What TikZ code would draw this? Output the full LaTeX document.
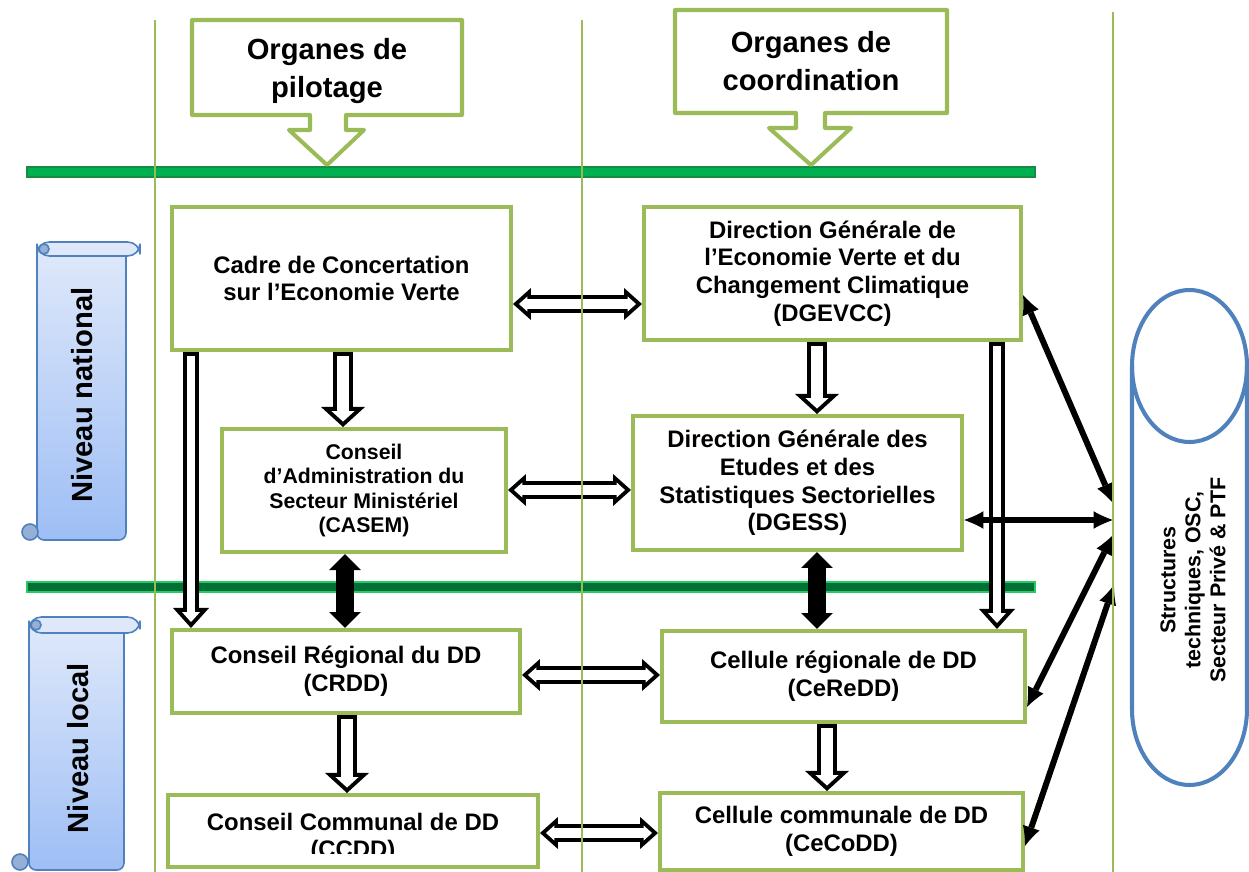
\documentclass[tikz,border=0pt]{standalone}
\usepackage{fontspec}
\setmainfont{Liberation Sans}
\usetikzlibrary{arrows.meta,calc}
\usepackage{xcolor}
\definecolor{boxgreen}{RGB}{155,187,89}
\definecolor{topgreen}{RGB}{0,176,80}
\definecolor{topedge}{RGB}{20,140,65}
\definecolor{lowgreen}{RGB}{0,112,55}
\definecolor{lowedge}{RGB}{40,200,100}
\definecolor{scrollblue}{RGB}{79,129,189}
\definecolor{scrolltop}{RGB}{222,232,250}
\definecolor{scrollbot}{RGB}{158,190,245}
\definecolor{curlblue}{RGB}{150,175,215}

\begin{document}
\begin{tikzpicture}[x=0.02cm,y=-0.02cm,
            box/.style={rectangle,draw=boxgreen,line width=2.3pt,fill=white,align=center,inner sep=2pt,font=\bfseries\fontsize{13.6}{15.8}\selectfont},
            small/.style={font=\bfseries\fontsize{12.1}{13.8}\selectfont},
            boxtext/.style={align=center,inner sep=0pt,font=\bfseries\fontsize{13.6}{15.6}\selectfont},
            title/.style={align=center,font=\bfseries\fontsize{16.6}{21.6}\selectfont},
            callout/.style={draw=boxgreen,line width=2.3pt,fill=white,line join=round},
            lane/.style={boxgreen,line width=0.9pt},
            topbar/.style={draw=topedge,fill=topgreen,line width=0.6pt},
            lowbar/.style={draw=lowedge,fill=lowgreen,line width=0.6pt},
            scroll/.style={draw=scrollblue,line width=0.9pt,top color=scrolltop,bottom color=scrollbot},
            roll/.style={draw=scrollblue,line width=0.9pt,fill=scrolltop},
            curl/.style={draw=scrollblue,line width=0.9pt,fill=curlblue},
            cyl/.style={draw=scrollblue,line width=2.3pt},
            vout/.style={line width=11.4pt,-{Triangle[width=25pt,length=11.4pt,line width=0pt]}},
            vin/.style={white,line width=6.8pt,shorten <=2.3pt,shorten >=3.1pt,-{Triangle[width=13.2pt,length=6pt,line width=0pt]}},
            tout/.style={line width=9.1pt,-{Triangle[width=20.5pt,length=11.4pt,line width=0pt]}},
            tin/.style={white,line width=4.5pt,shorten <=2.3pt,shorten >=3.4pt,-{Triangle[width=10.3pt,length=5.7pt,line width=0pt]}},
            hout/.style={line width=10.8pt,{Triangle[width=18.2pt,length=10.2pt,line width=0pt]}-{Triangle[width=18.2pt,length=10.2pt,line width=0pt]}},
            hin/.style={white,line width=6.2pt,shorten <=3.4pt,shorten >=3.4pt,{Triangle[width=8.6pt,length=4.8pt,line width=0pt]}-{Triangle[width=8.6pt,length=4.8pt,line width=0pt]}},
            solid/.style={line width=10.2pt,{Triangle[width=18.2pt,length=9.1pt,line width=0pt]}-{Triangle[width=18.2pt,length=9.1pt,line width=0pt]}},
            kline/.style={line width=3.4pt,{Latex[length=11pt,width=10pt,line width=0pt]}-{Latex[length=11pt,width=10pt,line width=0pt]}}]

            \useasboundingbox[fill=white] (0,0) rectangle (1249,872);

            % bandes vertes
            \draw[topbar] (27,167) rectangle (1035,177);
            \draw[lowbar] (27,582) rectangle (1035,592);

            % en-tetes
            \draw[callout] (192,20) -- (462,20) -- (462,115) -- (346,115) -- (346,130) -- (364,130) -- (327,165) -- (289,130) -- (310,130) -- (310,115) -- (192,115) -- cycle;
            \node[title] (pilot) at (327,71) {Organes de\\pilotage};
            \draw[callout] (675,10) -- (947,10) -- (947,113) -- (825,113) -- (825,128) -- (851,128) -- (811,165) -- (769,128) -- (796,128) -- (796,113) -- (675,113) -- cycle;
            \node[title] (coord) at (811,61) {Organes de\\coordination};

            % rouleaux
            \draw[scroll,rounded corners=4] (37,250) -- (37,540) -- (126,540) -- (126,250);
            \draw[roll,rounded corners=7] (37,242) rectangle (140,256);
            \draw[curl] (44,249) circle (5);
            \draw[curl] (30,532) circle (8);
            \node[title,rotate=90] (national) at (82,395) {Niveau national};
            \draw[scroll,rounded corners=4] (29,625) -- (29,870) -- (124,870) -- (124,625);
            \draw[roll,rounded corners=7] (29,617) rectangle (140,633);
            \draw[curl] (36,625) circle (5);
            \draw[curl] (20,862) circle (8);
            \node[title,rotate=90] (local) at (78,748) {Niveau local};

            % organes
            \node[box,minimum width=6.78cm,minimum height=2.86cm] (ccev) at (341.5,278.5) {Cadre de Concertation\\sur l’Economie Verte};
            \node[box,minimum width=7.54cm,minimum height=2.66cm] (dgevcc) at (832.5,273.5) {Direction Générale de\\l’Economie Verte et du\\Changement Climatique\\(DGEVCC)};
            \node[box,small,minimum width=5.68cm,minimum height=2.46cm] (casem) at (364,490.5) {Conseil\\d’Administration du\\Secteur Ministériel\\(CASEM)};
            \node[box,minimum width=6.58cm,minimum height=2.68cm] (dgess) at (797.5,483) {Direction Générale des\\Etudes et des\\Statistiques Sectorielles\\(DGESS)};
            \node[box,minimum width=6.96cm,minimum height=1.66cm] (crdd) at (346,671.5) {Conseil Régional du DD\\(CRDD)};
            \node[box,minimum width=7.26cm,minimum height=1.82cm] (ceredd) at (843.5,676.5) {Cellule régionale de DD\\(CeReDD)};
            \node[box,minimum width=7.4cm,minimum height=1.44cm] (ccdd) at (353,831) {};
            \begin{scope}
               \clip (168,797) rectangle (538,853);
               \node[boxtext] (ccddtext) at (353,838) {Conseil Communal de DD\\(CCDD)};
            \end{scope}
            \node[box,minimum width=7.26cm,minimum height=1.54cm] (cecodd) at (841.5,831.5) {Cellule communale de DD\\(CeCoDD)};

            % reperes des fleches
            \coordinate (xa) at (191,0);
            \coordinate (xb) at (343,0);
            \coordinate (xc) at (345,0);
            \coordinate (xd) at (347,0);
            \coordinate (xe) at (817,0);
            \coordinate (xf) at (827,0);
            \coordinate (xg) at (997,0);
            \coordinate (ya) at (0,304);
            \coordinate (yb) at (0,490);
            \coordinate (yc) at (0,675);
            \coordinate (yd) at (0,833);
            \coordinate (hub1) at (1113,503);
            \coordinate (hub2) at (1113,520);
            \coordinate (hub3) at (1113,535);
            \coordinate (hub4) at (1114,585);

            % fleches creuses
            \foreach \c/\a/\b in {xb/ccev.south/casem.north,xe/dgevcc.south/dgess.north,xd/crdd.south/ccdd.north,xf/ceredd.south/cecodd.north}
               {\draw[vout] (\c |- \a) -- (\c |- \b);
                \draw[vin] (\c |- \a) -- (\c |- \b);}
            \foreach \c/\a/\b in {xa/ccev.south/crdd.north,xg/dgevcc.south/ceredd.north}
               {\draw[tout] (\c |- \a) -- (\c |- \b);
                \draw[tin] (\c |- \a) -- (\c |- \b);}
            \foreach \c/\a/\b in {ya/ccev.east/dgevcc.west,yb/casem.east/dgess.west,yc/crdd.east/ceredd.west,yd/ccdd.east/cecodd.west}
               {\draw[hout] (\a |- \c) -- (\b |- \c);
                \draw[hin] (\a |- \c) -- (\b |- \c);}

            % fleches pleines
            \draw[solid] (xc |- casem.south) -- (xc |- crdd.north);
            \draw[solid] (xe |- dgess.south) -- (xe |- ceredd.north);

            % liens vers les structures
            \draw[kline] (hub1) -- (dgevcc.east |- 0,295);
            \draw[kline] (hub2) -- (dgess.east |- hub2);
            \draw[kline] (hub3) -- (ceredd.east |- 0,707);
            \draw[kline] (hub4) -- (cecodd.east |- 0,846);

            % couloirs
            \draw[lane] (155,20) -- (155,872);
            \draw[lane] (582,20) -- (582,872);
            \draw[lane] (1113,12) -- (1113,872);

            % structures
            \draw[cyl,fill=white] (1132,366) -- (1132,709) arc[start angle=180,end angle=360,x radius=1.15cm,y radius=1.52cm] -- (1247,366);
            \draw[cyl] (1189.5,366) ellipse [x radius=1.15cm,y radius=1.52cm];
            \node[align=center,rotate=90,font=\bfseries\fontsize{12.2}{14.2}\selectfont] (struct) at (1193,580) {Structures\\techniques, OSC,\\Secteur Privé \& PTF};
\end{tikzpicture}
\end{document}
